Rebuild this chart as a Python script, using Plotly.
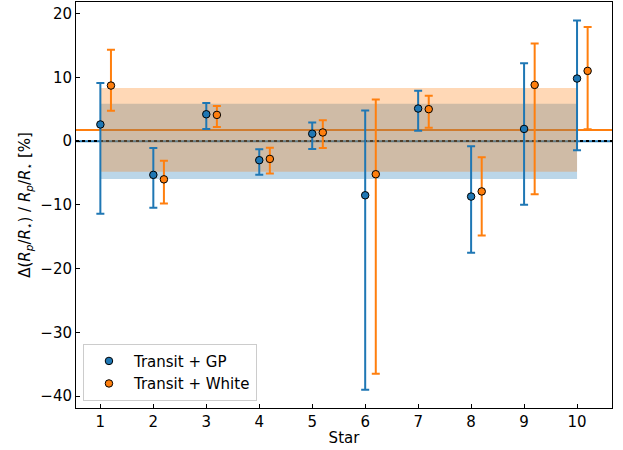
import plotly.graph_objects as go

stars = [1, 2, 3, 4, 5, 6, 7, 8, 9, 10]
offset_white = 0.2

gp_vals = [2.6, -5.3, 4.2, -3.0, 1.15, -8.5, 5.1, -8.7, 1.9, 9.8]
gp_err_hi = [9.1, -1.1, 5.95, -1.3, 2.9, 4.8, 7.9, -0.8, 12.2, 18.9]
gp_err_lo = [-11.4, -10.45, 1.9, -5.3, -1.25, -39.0, 1.6, -17.5, -10.0, -1.45]

wh_vals = [8.7, -6.0, 4.1, -2.8, 1.35, -5.2, 5.0, -7.9, 8.8, 11.0]
wh_err_hi = [14.3, -3.1, 5.5, -1.05, 3.25, 6.5, 7.1, -2.55, 15.3, 17.9]
wh_err_lo = [4.75, -9.8, 2.2, -5.1, -1.1, -36.5, 2.1, -14.8, -8.35, 1.85]

gp_mean, gp_std = -0.05, 5.9
wh_mean, wh_std = 1.75, 6.55

blue = "#1f77b4"
orange = "#ff7f0e"

def errs(vals, hi, lo):
    plus = [h - v for v, h in zip(vals, hi)]
    minus = [v - l for v, l in zip(vals, lo)]
    return plus, minus

gp_plus, gp_minus = errs(gp_vals, gp_err_hi, gp_err_lo)
wh_plus, wh_minus = errs(wh_vals, wh_err_hi, wh_err_lo)

fig = go.Figure()
fig.add_trace(go.Scatter(
    x=stars, y=gp_vals, mode="markers", name="Transit + GP",
    marker=dict(color=blue, size=7.5, line=dict(color="black", width=1)),
    error_y=dict(type="data", symmetric=False, array=gp_plus, arrayminus=gp_minus,
                 color=blue, thickness=2, width=4),
))
fig.add_trace(go.Scatter(
    x=[s + offset_white for s in stars], y=wh_vals, mode="markers", name="Transit + White",
    marker=dict(color=orange, size=7.5, line=dict(color="black", width=1)),
    error_y=dict(type="data", symmetric=False, array=wh_plus, arrayminus=wh_minus,
                 color=orange, thickness=2, width=4),
))

x0, x1 = stars[0], stars[-1]
fig.add_shape(type="rect", x0=x0, x1=x1, y0=gp_mean - gp_std, y1=gp_mean + gp_std,
              fillcolor="rgba(31,119,180,0.3)", line=dict(width=0), layer="below")
fig.add_shape(type="rect", x0=x0, x1=x1, y0=wh_mean - wh_std, y1=wh_mean + wh_std,
              fillcolor="rgba(255,127,14,0.3)", line=dict(width=0), layer="below")
fig.add_shape(type="line", xref="paper", x0=0, x1=1, y0=gp_mean, y1=gp_mean,
              line=dict(color=blue, width=2), layer="below")
fig.add_shape(type="line", xref="paper", x0=0, x1=1, y0=wh_mean, y1=wh_mean,
              line=dict(color=orange, width=2), layer="below")
fig.add_shape(type="line", xref="paper", x0=0, x1=1, y0=0, y1=0,
              line=dict(color="black", width=2, dash="dot"), layer="below")

font = dict(family="DejaVu Sans", size=15, color="black")
fig.update_layout(
    width=623, height=450,
    margin=dict(l=76, r=11, t=2, b=42),
    paper_bgcolor="white", plot_bgcolor="white",
    font=font,
    showlegend=True,
    legend=dict(x=0.013, y=0.018, xanchor="left", yanchor="bottom",
                bgcolor="rgba(255,255,255,0.8)", bordercolor="#cccccc", borderwidth=1,
                font=dict(family="DejaVu Sans", size=15), itemwidth=40),
)
fig.update_xaxes(
    range=[0.54, 10.66], tickvals=stars, ticktext=[str(s) for s in stars],
    ticks="inside", ticklen=4, tickcolor="black", showline=True, linecolor="black",
    linewidth=1, mirror=True, showgrid=False, zeroline=False, automargin=False,
    title=dict(text="Star", font=font, standoff=2),
)
fig.update_yaxes(
    range=[-41.85, 21.8], tickvals=[-40, -30, -20, -10, 0, 10, 20],
    ticks="inside", ticklen=4, tickcolor="black", showline=True, linecolor="black",
    linewidth=1, mirror=True, showgrid=False, zeroline=False, automargin=False,
    title=dict(text="Δ(<i>R<sub>p</sub></i>/<i>R</i><sub>⋆</sub>) / <i>R<sub>p</sub></i>/<i>R</i><sub>⋆</sub> [%]",
               font=font, standoff=6),
)
fig.write_html("out.html", config={"displayModeBar": False},
               post_script="document.body.style.margin='0';")
